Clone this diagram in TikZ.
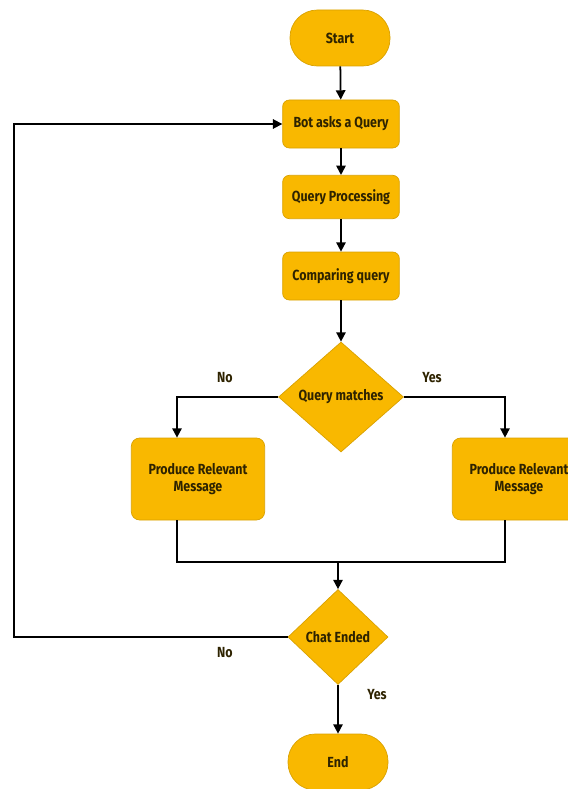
\documentclass[tikz,border=0pt]{standalone}
\usepackage{fontspec}
\newfontfamily\chartfont{Fira Sans}[FakeStretch=0.85]
\usepackage{tikz}
\usetikzlibrary{shapes.geometric,arrows.meta}
\definecolor{boxfill}{HTML}{F9B800}
\definecolor{boxline}{HTML}{D9A100}
\definecolor{boxtext}{HTML}{2E2300}

\tikzset{
  base/.style={draw=boxline, fill=boxfill, line width=0.6pt, text=boxtext,
    font=\chartfont\bfseries\fontsize{12.5}{14.5}\selectfont, align=center},
  terminal/.style={base, minimum width=3cm, minimum height=1.68cm, rounded corners=0.82cm},
  procbox/.style={base, minimum width=3.5cm, minimum height=1.44cm, rounded corners=0.2cm},
  msgbox/.style={base, minimum width=4cm, minimum height=2.46cm, rounded corners=0.25cm},
  decbox/.style={base, diamond, inner sep=0pt},
  flow/.style={line width=1.5pt, black},
  tag/.style={font=\chartfont\bfseries\fontsize{12.5}{14.5}\selectfont, text=boxtext}
}

\begin{document}
\begin{tikzpicture}[x=0.03cm, y=-0.03cm, >={Triangle[length=8pt,width=8pt]}]
  \useasboundingbox (0,0) rectangle (568,789);
  \node [terminal] (start) at (340,38) {Start};
  \node [procbox] (bot) at (341,124) {Bot asks a Query};
  \node [procbox, minimum height=1.3cm] (proc) at (341,197) {Query Processing};
  \node [procbox] (comp) at (341,276) {Comparing query};
  \node [decbox, minimum width=3.75cm, minimum height=3.3cm] (match) at (341,397) {Query matches};
  \node [msgbox] (left) at (198,479) {Produce Relevant\\Message};
  \node [msgbox] (right) at (519,479) {Produce Relevant\\Message};
  \node [decbox, minimum width=3cm, minimum height=2.85cm] (chat) at (338,637) {Chat Ended};
  \node [terminal] (stop) at (338,762) {End};
  \coordinate (merge) at (338,562);

  \draw [flow, ->] (start) -- (bot);
  \draw [flow, ->] (bot) -- (proc);
  \draw [flow, ->] (proc) -- (comp);
  \draw [flow, ->] (comp) -- (match);
  \draw [flow, ->] (match.west) -| ([xshift=-0.63cm]left.north);
  \draw [flow, ->] (match.east) -| ([xshift=-0.42cm]right.north);
  \draw [flow] ([xshift=-0.63cm]left.south) |- (merge) -| ([xshift=-0.42cm]right.south);
  \draw [flow, ->] (merge) -- (chat);
  \draw [flow, ->] (chat) -- (stop);
  \draw [flow, ->] (chat.west) -- ++(-274,0) |- (bot.west);

  \node [tag] (nomatch) at (225,378) {No};
  \node [tag] (yesmatch) at (432,378) {Yes};
  \node [tag] (noend) at (225,653) {No};
  \node [tag] (yesend) at (377,695) {Yes};
\end{tikzpicture}
\end{document}
